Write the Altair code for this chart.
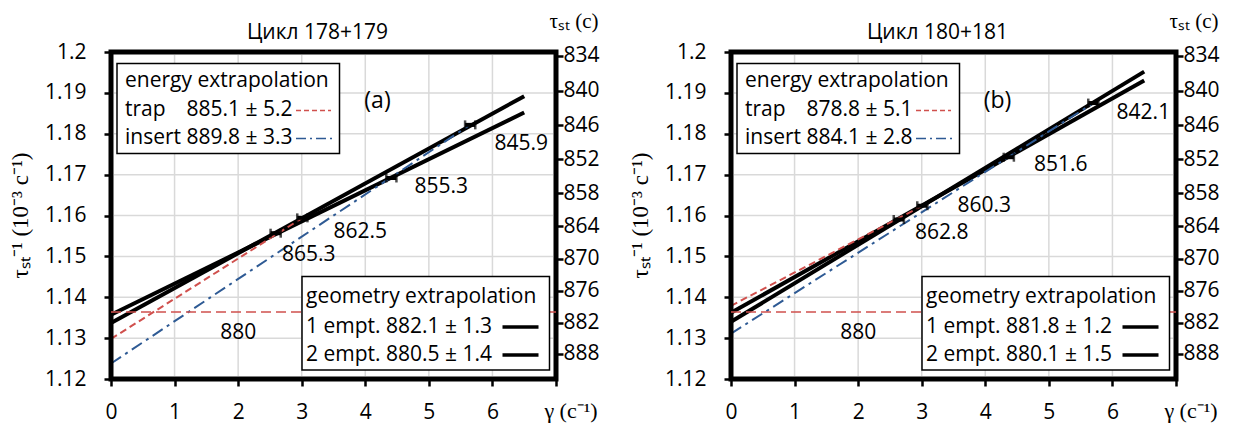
import altair as alt
import pandas as pd

W, H = 445, 327
FONT = "Open Sans"
SERIF = "Liberation Serif"
RED = "#d0504d"
BLUE = "#2e5a94"
GRID = "#d9d9d9"

# ---- axis ticks / labels ----
x_ticks = [0, 1, 2, 3, 4, 5, 6, 7]
y_ticks = [1.12, 1.13, 1.14, 1.15, 1.16, 1.17, 1.18, 1.19, 1.2]
x_grid = [1, 2, 3, 4, 5, 6]
y_grid = [1.13, 1.14, 1.15, 1.16, 1.17, 1.18, 1.19]
tau_ticks = [834, 840, 846, 852, 858, 864, 870, 876, 882, 888]

titles = ["Цикл 178+179", "Цикл 180+181"]
tags = ["(a)", "(b)"]

# ---- measured points (gamma, tau) ----
pt_gamma = [[2.59, 3.01, 4.41, 5.65], [2.64, 3.01, 4.37, 5.70]]
pt_tau = [[865.3, 862.5, 855.3, 845.9], [862.8, 860.3, 851.6, 842.1]]

# ---- fitted lines (end points) ----
geo_x = [0, 6.5]
geo1_y = [[1.1337, 1.1892], [1.1340, 1.1952]]
geo2_y = [[1.1357, 1.1852], [1.1362, 1.1930]]
trap_x = [[0, 3.01], [0, 3.01]]
trap_y = [[1.1298, 1.1594], [1.1379, 1.1624]]
ins_x = [[0, 5.65], [0, 5.70]]
ins_y = [[1.1238, 1.1822], [1.1311, 1.1875]]
ref_tau = 880
ref_x = [0, 7.05]
ref_label_x = [2.0]

# ---- legend texts ----
energy_title = "energy extrapolation"
geo_title = "geometry extrapolation"
energy_names = ["trap", "insert"]
energy_vals = [["885.1 ± 5.2", "889.8 ± 3.3"], ["878.8 ± 5.1", "884.1 ± 2.8"]]
geo_texts = [["1 empt. 882.1 ± 1.3", "2 empt. 880.5 ± 1.4"],
             ["1 empt. 881.8 ± 1.2", "2 empt. 880.1 ± 1.5"]]

# ---- layout (pixel offsets of labels, not data) ----
label_dx = [[33, 58, 50, 51], [43, 62, 52, 50]]
label_dy = [[22, 14, 9, 19], [13, 0, 8, 10]]

xs = alt.Scale(domain=[0, 7], nice=False)
ys = alt.Scale(domain=[1.12, 1.2], nice=False, zero=False)
one = pd.DataFrame({"k": [0]})


def X(f="g"):
    return alt.X(f"{f}:Q", scale=xs, axis=None)


def Y(f="y"):
    return alt.Y(f"{f}:Q", scale=ys, axis=None)


def line(xv, yv, color, width, dash=None):
    df = pd.DataFrame({"g": xv, "y": yv})
    kw = dict(color=color, strokeWidth=width)
    if dash:
        kw["strokeDash"] = dash
    return alt.Chart(df).mark_line(**kw).encode(x=X(), y=Y())


def ptext(txt, x, y, size=21, font=FONT, align="left", angle=0, color="black"):
    df = pd.DataFrame({"t": [txt]})
    kw = dict(font=font, fontSize=size, align=align, baseline="middle", color=color)
    if angle:
        kw["angle"] = angle
    return alt.Chart(df).mark_text(**kw).encode(
        x=alt.value(x), y=alt.value(y), text="t:N")


def prule(x1, x2, y, color, width, dash=None):
    kw = dict(color=color, strokeWidth=width)
    if dash:
        kw["strokeDash"] = dash
    return alt.Chart(one).mark_rule(**kw).encode(
        x=alt.value(x1), x2=alt.value(x2), y=alt.value(y))


def panel(i):
    L = []
    axis_df = pd.DataFrame({"g": [0.0], "y": [1.12]})
    # left + bottom axes
    L.append(alt.Chart(axis_df).mark_point(opacity=0).encode(
        x=alt.X("g:Q", scale=xs, axis=alt.Axis(
            orient="bottom", values=x_ticks,
            labelExpr="datum.value == 7 ? '' : datum.label", title=None,
            grid=False, domain=False, tickSize=7, tickWidth=2.5, tickColor="black",
            labelFont=FONT, labelFontSize=21, labelColor="black", labelPadding=15,
            labelFlush=False)),
        y=alt.Y("y:Q", scale=ys, axis=alt.Axis(
            orient="left", values=y_ticks, labelExpr="format(datum.value, '.2~f')",
            title=None, grid=False, domain=False, tickSize=7, tickWidth=2.5,
            tickColor="black", labelFont=FONT, labelFontSize=21, labelColor="black",
            labelPadding=18))))
    # right axis (tau)
    L.append(alt.Chart(axis_df).mark_point(opacity=0).encode(
        x=X(),
        y=alt.Y("y:Q", scale=ys, axis=alt.Axis(
            orient="right", values=[1000 / t for t in tau_ticks],
            labelExpr="format(1000 / datum.value, '.0f')", title=None, grid=False,
            domain=False, tickSize=7, tickWidth=2.5, tickColor="black",
            labelFont=FONT, labelFontSize=21, labelColor="black", labelPadding=0))))
    # grid
    L.append(alt.Chart(pd.DataFrame({"g": x_grid})).mark_rule(color=GRID, strokeWidth=1.5)
             .encode(x=X(), y=alt.value(3), y2=alt.value(H - 3)))
    L.append(alt.Chart(pd.DataFrame({"y": y_grid})).mark_rule(color=GRID, strokeWidth=1.5)
             .encode(y=Y(), x=alt.value(3), x2=alt.value(W - 3)))
    # fits
    L.append(line(geo_x, geo1_y[i], "black", 4))
    L.append(line(geo_x, geo2_y[i], "black", 4))
    L.append(line(trap_x[i], trap_y[i], RED, 2, [7, 4]))
    L.append(line(ins_x[i], ins_y[i], BLUE, 2, [12, 5, 3, 5]))
    # points with error bars
    pts = pd.DataFrame({"g": pt_gamma[i], "tau": pt_tau[i]})
    pts["y"] = 1000 / pts["tau"]
    pts["lab"] = [f"{t:.1f}" for t in pt_tau[i]]
    base = alt.Chart(pts).transform_calculate(lo="datum.g - 0.08", hi="datum.g + 0.08")
    L.append(base.mark_rule(color="black", strokeWidth=4).encode(
        x=X("lo"), x2="hi:Q", y=Y()))
    L.append(base.mark_tick(orient="vertical", color="black", size=9, thickness=2.5)
             .encode(x=X("lo"), y=Y()))
    L.append(base.mark_tick(orient="vertical", color="black", size=9, thickness=2.5)
             .encode(x=X("hi"), y=Y()))
    for j in range(len(pts)):
        L.append(alt.Chart(pts.iloc[[j]]).mark_text(
            font=FONT, fontSize=21, dx=label_dx[i][j], dy=label_dy[i][j],
            baseline="middle", align="center", color="black")
            .encode(x=X(), y=Y(), text="lab:N"))
    # 880 label
    ref_df = pd.DataFrame({"g": ref_label_x, "y": [1000 / ref_tau], "t": [str(ref_tau)]})
    L.append(alt.Chart(ref_df).mark_text(font=FONT, fontSize=21, dy=21, baseline="middle",
                                         color="black").encode(x=X(), y=Y(), text="t:N"))
    # frame
    L.append(alt.Chart(one).mark_rect(fill=None, stroke="black", strokeWidth=5).encode(
        x=alt.value(0), x2=alt.value(W), y=alt.value(0), y2=alt.value(H)))
    # 880 reference line
    L.append(line(ref_x, [1000 / ref_tau] * 2, RED, 1.5, [10, 5]))
    # energy legend
    L.append(alt.Chart(one).mark_rect(fill="white", stroke="black", strokeWidth=1.5).encode(
        x=alt.value(6), x2=alt.value(228.5), y=alt.value(11.5), y2=alt.value(101.5)))
    L.append(ptext(energy_title, 14, 29))
    L.append(ptext(energy_names[0], 14, 58))
    L.append(ptext(energy_names[1], 14, 86))
    L.append(ptext(energy_vals[i][0], 75.5, 58))
    L.append(ptext(energy_vals[i][1], 75.5, 86))
    L.append(prule(185, 220, 58.5, RED, 1.5, [5, 3]))
    L.append(prule(185, 221, 86.5, BLUE, 1.5, [10, 4, 2, 4]))
    # geometry legend
    L.append(alt.Chart(one).mark_rect(fill="white", stroke="black", strokeWidth=1.5).encode(
        x=alt.value(191), x2=alt.value(438.5), y=alt.value(224.5), y2=alt.value(318)))
    L.append(ptext(geo_title, 195, 245))
    L.append(ptext(geo_texts[i][0], 195, 275))
    L.append(ptext(geo_texts[i][1], 195, 303))
    L.append(prule(391.5, 427.5, 275, "black", 3.5))
    L.append(prule(391.5, 427.5, 303, "black", 3.5))
    # titles and tag
    L.append(ptext(titles[i], 206.5, -19, align="center"))
    L.append(ptext(tags[i], 266.5, 49, size=23, align="center"))
    L.append(ptext("τₛₜ (c)", W + 18, -30, size=21, font=SERIF, align="center"))
    L.append(ptext("γ (c⁻¹)", W + 15, H + 32, size=22, font=SERIF, align="center"))
    L.append(ptext("τₛₜ⁻¹ (10⁻³ c⁻¹)", -90, H / 2, size=23, font=SERIF,
                   align="center", angle=270))
    return (alt.layer(*L).resolve_axis(x="independent", y="independent")
            .properties(width=W, height=H))


chart = alt.hconcat(panel(0), panel(1), spacing=30).properties(
    padding={"left": 2, "top": 3, "right": 0, "bottom": 6},
    background="white",
).configure_view(stroke=None)

chart.save("out.html", embed_options={"renderer": "svg", "actions": False})
